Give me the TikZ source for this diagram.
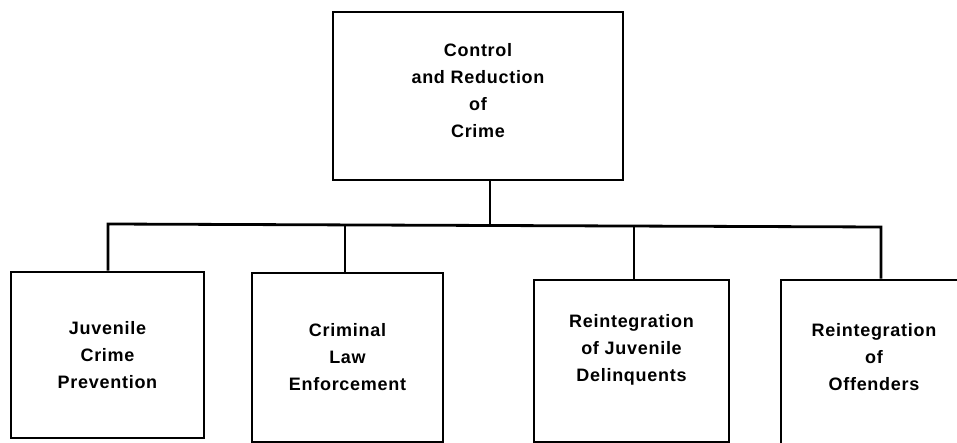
\documentclass[tikz,border=0pt]{standalone}
\usepackage{fontspec}
\setmainfont[LetterSpace=4]{Liberation Sans}
\begin{document}
\begin{tikzpicture}[x=1pt,y=-1pt,
  box/.style={draw, line width=2.8pt, rectangle, align=center, inner sep=0pt,
    font=\fontsize{18}{27}\selectfont\bfseries},
  link/.style={line width=2.8pt}]
\useasboundingbox (0,0) rectangle (957,443);
\clip (0,0) rectangle (957,443);
\node[box, minimum width=290pt, minimum height=168pt, text depth=11pt] (top) at (478,96) {Control\\and Reduction\\of\\Crime};
\node[box, minimum width=193pt, minimum height=166pt] (b1) at (107.5,355) {Juvenile\\Crime\\Prevention};
\node[box, minimum width=191pt, minimum height=169pt] (b2) at (347.5,357.5) {Criminal\\Law\\Enforcement};
\node[box, minimum width=195pt, minimum height=162pt, text depth=26pt] (b3) at (631.5,361) {Reintegration\\of Juvenile\\Delinquents};
\node[box, minimum width=186pt, minimum height=166pt, text depth=12pt] (b4) at (874,363) {Reintegration\\of\\Offenders};
\coordinate (j1) at (108,224);
\coordinate (j2) at (345,225);
\coordinate (j3) at (634,226);
\coordinate (j4) at (881,227);
\coordinate (jt) at (490,225);
\draw[link] (j1 |- b1.north) -- (j1) -- (j4) -- (j4 |- b4.north);
\draw[link] (j2) -- (j2 |- b2.north);
\draw[link] (j3) -- (j3 |- b3.north);
\draw[link] (top.south -| jt) -- (jt);
\end{tikzpicture}
\end{document}
